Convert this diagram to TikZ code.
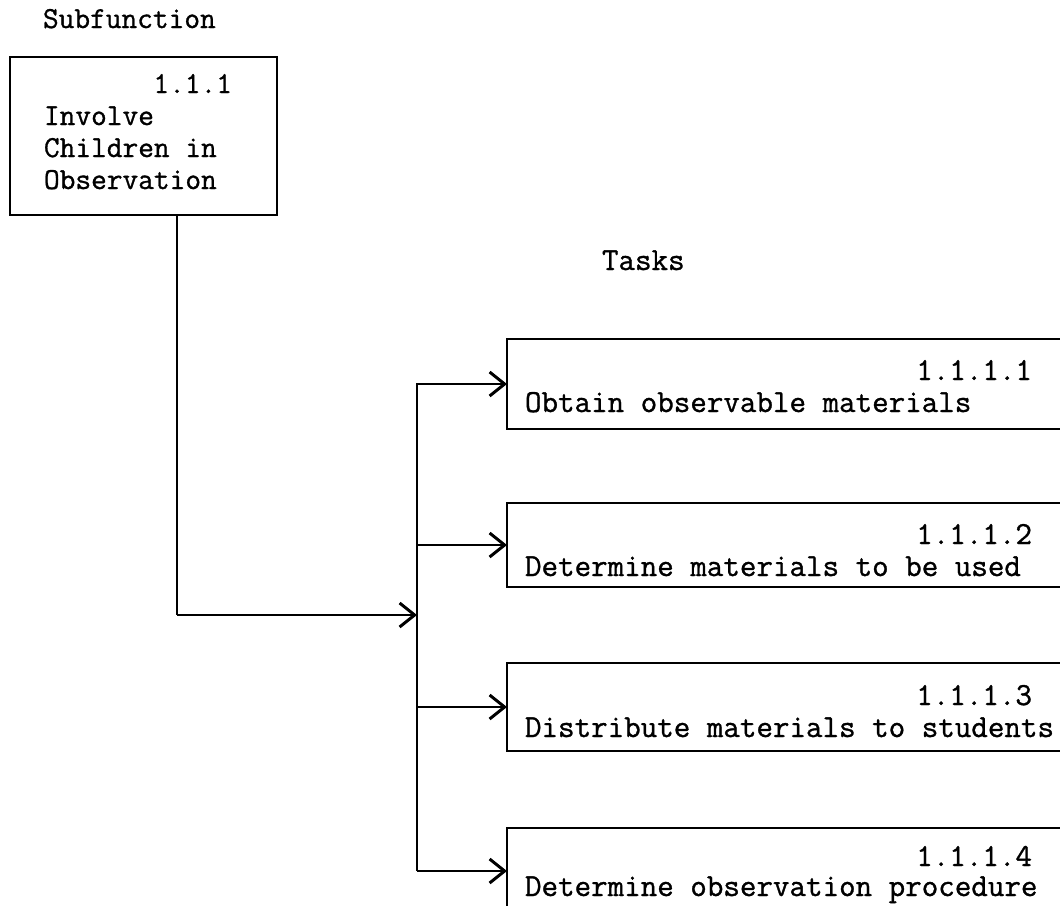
\documentclass[tikz,border=0pt]{standalone}
\usepackage{fontspec}
\newfontfamily\twfont{Latin Modern Mono}[FakeBold=1.0]
\usetikzlibrary{arrows.meta}
\begin{document}
\begin{tikzpicture}[x=1pt,y=-1pt,
  line width=2.9pt,
  txt/.style={inner sep=0pt,outer sep=0pt,font=\twfont\fontsize{32.1pt}{32pt}\selectfont},
  ltxt/.style={inner sep=0pt,outer sep=0pt,font=\twfont\fontsize{30.5pt}{32pt}\selectfont},
  taskbox/.style={draw,inner sep=0pt,outer sep=0pt,minimum width=568pt,anchor=north west},
  subbox/.style={draw,inner sep=0pt,outer sep=0pt,minimum width=267pt,minimum height=158pt,anchor=north west},
  conn/.style={line width=2.9pt},
  arr/.style={conn,-{Straight Barb[length=15pt,width=24pt,line width=3pt]}}
]
\clip (0,0) rectangle (1060,905);
\fill[white] (0,0) rectangle (1060,905);

% subfunction
\node[ltxt,anchor=base west] (lsub) at (43,28) {Subfunction};
\node[subbox] (sub) at (10,57) {};
\node[ltxt,anchor=base east] (subnum) at (232,93) {1.1.1};
\node[ltxt,anchor=base west] (subl1) at (44,125) {Involve};
\node[ltxt,anchor=base west] (subl2) at (44,157) {Children in};
\node[ltxt,anchor=base west] (subl3) at (44,189) {Observation};

% tasks label
\node[txt,anchor=base west] (ltasks) at (602,270) {Tasks};

% task boxes
\node[taskbox,minimum height=90pt] (t1) at (507,339) {};
\node[taskbox,minimum height=84pt] (t2) at (507,503) {};
\node[taskbox,minimum height=88pt] (t3) at (507,663) {};
\node[taskbox,minimum height=86pt] (t4) at (507,828) {};

\node[txt,anchor=base east] (n1) at (1032,380) {1.1.1.1};
\node[txt,anchor=base west] (d1) at (525,412) {Obtain observable materials};
\node[txt,anchor=base east] (n2) at (1032,544) {1.1.1.2};
\node[txt,anchor=base west] (d2) at (525,576) {Determine materials to be used};
\node[txt,anchor=base east] (n3) at (1032,705) {1.1.1.3};
\node[txt,anchor=base west] (d3) at (525,737) {Distribute materials to students};
\node[txt,anchor=base east] (n4) at (1032,866) {1.1.1.4};
\node[txt,anchor=base west] (d4) at (525,896) {Determine observation procedure};

% bus
\coordinate (bustop) at (417,383);
\coordinate (busbot) at (417,871);
\coordinate (busin) at (417,615);
\coordinate (bend) at (177,615);
\draw[conn] (bustop) -- (busbot);

\draw[conn] (sub.south -| bend) -- (bend);
\draw[arr] (bend) -- (busin);

\draw[arr] (bustop |- t1.west) -- (t1.west);
\draw[arr] (bustop |- t2.west) -- (t2.west);
\draw[arr] (bustop |- t3.west) -- (t3.west);
\draw[arr] (bustop |- t4.west) -- (t4.west);
\end{tikzpicture}
\end{document}
